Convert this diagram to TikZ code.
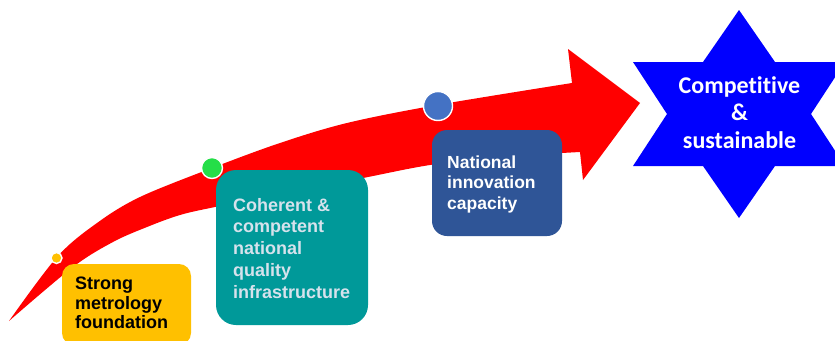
\documentclass[tikz,border=0pt]{standalone}
\usepackage{fontspec}
\setmainfont{Liberation Sans}
\newfontfamily\starfont[Ligatures=NoCommon]{Carlito}
\definecolor{arrowred}{RGB}{255,0,0}
\definecolor{goldbox}{RGB}{255,192,0}
\definecolor{tealbox}{RGB}{0,153,153}
\definecolor{tealtext}{RGB}{214,226,236}
\definecolor{navybox}{RGB}{47,85,151}
\definecolor{bluedot}{RGB}{68,114,196}
\definecolor{greendot}{RGB}{36,222,72}
\definecolor{starblue}{RGB}{0,0,255}
\begin{document}
\begin{tikzpicture}[x=1pt,y=-1pt,
  panel/.style={anchor=north west, inner sep=0pt, outer sep=0pt},
  label/.style={anchor=base west, align=left, inner sep=0pt, font=\bfseries},
  dot/.style={circle, draw=white, line width=1.4pt, inner sep=0pt}]
\clip (0,0) rectangle (835,340);
\fill[white] (0,0) rectangle (835,340);

% curved arrow
\fill[arrowred] plot[smooth, tension=0.55] coordinates {(9,321) (57,257) (97,223) (140,197) (212,168) (280,143) (347,123) (437,105) (572,83)}
  -- (568,49) -- (640,103) -- (583,180) -- (580,152)
  -- plot[smooth, tension=0.55] coordinates {(580,152) (500,157) (430,165) (363,178) (290,192) (215,207) (180,215) (147,227) (113,242) (73,267) (9,321)} -- cycle;

% star
\fill[starblue] (739,10) -- (775,62) -- (845,62) -- (811,114) -- (845,166) -- (775,166)
  -- (739,218) -- (703,166) -- (633,166) -- (667,114) -- (633,62) -- (703,62) -- cycle;
\node[anchor=base, align=center, inner sep=0pt, text=white,
  font=\starfont\bfseries\fontsize{24}{27.5}\selectfont] (goal) at (739.5,148)
  {Competitive\\\&\\sustainable};

% boxes
\node[panel, fill=goldbox, rounded corners=12pt, minimum width=129pt, minimum height=81pt] (b1) at (62,264) {};
\node[panel, fill=tealbox, rounded corners=20pt, minimum width=152pt, minimum height=155pt] (b2) at (216,170) {};
\node[panel, fill=navybox, rounded corners=15pt, minimum width=130pt, minimum height=106pt] (b3) at (432,130) {};

\node[label, text=black, font=\bfseries\fontsize{18}{19.5}\selectfont] (t1) at (75,328.5)
  {Strong\\metrology\\foundation};
\node[label, text=tealtext, font=\bfseries\fontsize{18}{21.8}\selectfont] (t2) at (233,298.2)
  {Coherent \&\\competent\\national\\quality\\infrastructure};
\node[label, text=white, font=\bfseries\fontsize{17.5}{20.6}\selectfont] (t3) at (447,209.2)
  {National\\innovation\\capacity};

% dots
\node[dot, fill=goldbox, minimum size=11pt] (d1) at (56.5,258) {};
\node[dot, fill=greendot, minimum size=21pt] (d2) at (212,168) {};
\node[dot, fill=bluedot, minimum size=29pt] (d3) at (438,106) {};
\end{tikzpicture}
\end{document}
